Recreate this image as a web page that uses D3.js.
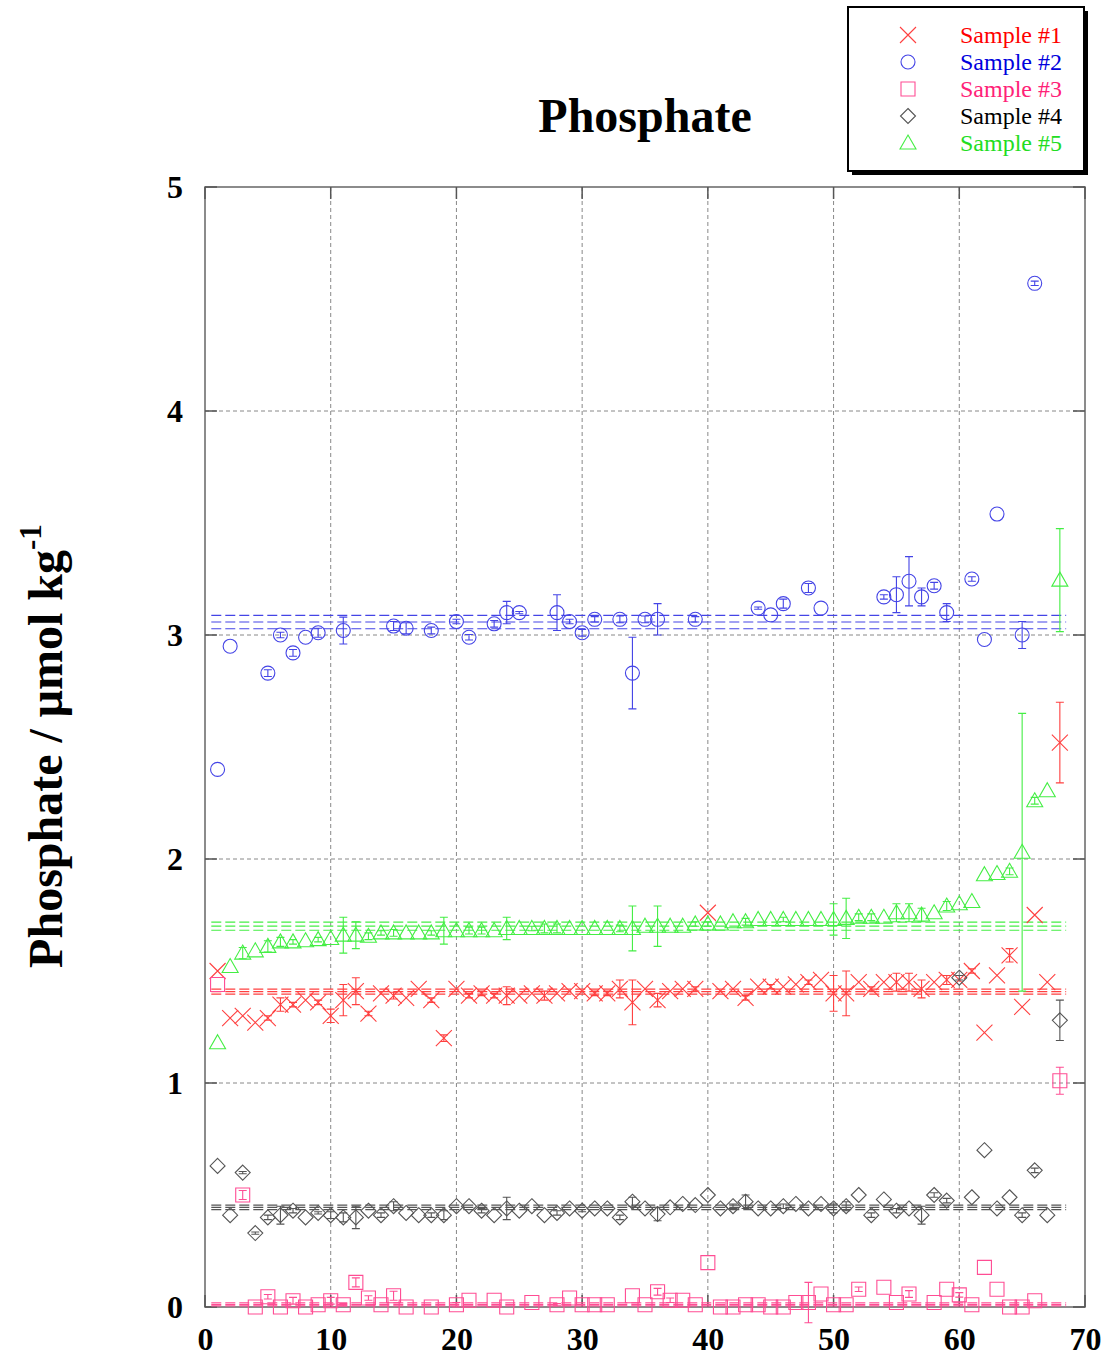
<!DOCTYPE html>
<html>
<head>
<meta charset="utf-8">
<script src="https://cdn.jsdelivr.net/npm/d3@7"></script>
<style>
  body { margin: 0; background: #fff; }
  svg { display: block; }
  text { font-family: "Liberation Serif", "DejaVu Serif", serif; }
</style>
</head>
<body>
<svg width="1108" height="1362"></svg>
<script>
// sample index along the x axis
const sampleNo = d3.range(1, 69);

// Sample #1 (red crosses)
const s1Values = [1.50,1.29,1.30,1.27,1.29,1.35,1.35,1.37,1.36,1.30,1.37,1.41,1.31,1.40,1.39,1.38,1.42,1.37,1.20,1.42,
  1.39,1.40,1.39,1.39,1.39,1.40,1.39,1.40,1.41,1.41,1.40,1.40,1.42,1.36,1.42,1.37,1.41,1.42,1.42,1.76,
  1.41,1.42,1.38,1.43,1.43,1.43,1.44,1.45,1.46,1.40,1.40,1.45,1.42,1.45,1.45,1.45,1.42,1.45,1.46,1.46,
  1.50,1.225,1.48,1.57,1.34,1.75,1.45,2.52];
const s1Errors = [0,0,0,0,0.01,0.03,0.01,0,0.01,0.03,0.07,0.06,0.01,0,0.015,0,0,0.01,0.015,0,
  0.01,0.01,0.01,0.04,0,0,0.02,0,0,0,0.01,0.01,0.04,0.1,0,0.03,0,0,0.01,0,
  0,0,0.01,0,0.01,0,0,0.01,0,0.08,0.1,0,0.01,0,0.04,0.04,0.04,0,0.02,0,
  0.01,0,0,0.03,0,0,0,0.18];

// Sample #2 (blue circles)
const s2Values = [2.40,2.95,null,null,2.83,3.00,2.92,2.99,3.01,null,3.02,null,null,null,3.04,3.03,null,3.02,null,3.06,
  2.99,null,3.05,3.10,3.10,null,null,3.10,3.06,3.01,3.07,null,3.07,2.83,3.07,3.07,null,null,3.07,null,
  null,null,null,3.12,3.09,3.14,null,3.21,3.12,null,null,null,null,3.17,3.18,3.24,3.17,3.22,3.10,null,
  3.25,2.98,3.54,null,3.00,4.57,null,null];
const s2Errors = [0,0,0,0,0.015,0.012,0.015,0,0.02,0,0.06,0,0,0,0.02,0.025,0,0.015,0,0.01,
  0.012,0,0.015,0.05,0.005,0,0,0.08,0.01,0.015,0.012,0,0.015,0.16,0.015,0.07,0,0,0.012,0,
  0,0,0,0.005,0,0.02,0,0.02,0,0,0,0,0,0.01,0.08,0.11,0.04,0.015,0.04,0,
  0.01,0,0,0,0.06,0.01,0,0];

// Sample #3 (pink squares)
const s3Values = [1.44,null,0.50,0.00,0.046,0.00,0.028,0.00,0.01,0.028,0.01,0.11,0.04,0.01,0.05,0.00,null,0.00,null,0.01,
  0.03,null,0.03,0.00,null,0.02,null,0.01,0.04,0.01,0.01,0.01,null,0.05,0.01,0.068,0.03,0.03,0.01,0.198,
  0.00,0.00,0.01,0.01,0.00,0.00,0.02,0.02,0.058,0.01,0.01,0.079,null,0.088,0.02,0.058,null,0.02,0.079,0.054,
  0.01,0.177,0.079,0.00,0.00,0.028,null,1.01];
const s3Errors = [0,0,0.02,0,0.01,0,0.015,0,0,0.015,0.005,0.02,0.01,0,0.02,0,0,0,0,0.01,
  0,0,0,0,0,0,0,0.005,0,0,0,0,0,0,0,0.015,0.01,0,0,0,
  0,0,0,0,0,0,0,0.09,0,0,0,0.01,0,0,0,0.015,0,0,0,0.01,
  0,0,0,0,0,0,0,0.06];

// Sample #4 (black diamonds)
const s4Values = [0.63,0.41,0.60,0.33,0.40,0.41,0.43,0.40,0.42,0.41,0.40,0.40,0.43,0.41,0.45,0.42,0.41,0.41,0.41,0.45,
  0.45,0.43,0.41,0.44,0.43,0.45,0.41,0.42,0.44,0.43,0.44,0.44,0.40,0.47,0.44,0.415,0.445,0.46,0.455,0.50,
  0.44,0.45,0.47,0.44,0.44,0.45,0.46,0.44,0.46,0.44,0.45,0.50,0.41,0.48,0.43,0.44,0.41,0.50,0.475,1.47,
  0.49,0.70,0.44,0.49,0.41,0.61,0.41,1.28];
const s4Errors = [0,0,0.005,0.005,0.01,0.04,0.01,0,0.005,0.015,0.02,0.05,0,0.01,0.02,0,0,0.01,0.02,0,
  0,0.01,0,0.05,0,0,0,0.01,0,0.005,0,0,0.01,0.02,0,0.03,0,0,0,0,
  0,0.01,0.03,0,0,0.01,0,0,0,0.02,0.02,0,0.01,0,0.01,0,0.04,0.01,0.01,0.01,
  0,0,0,0,0.01,0.01,0,0.09];

// Sample #5 (green triangles)
const s5Values = [1.18,1.52,1.58,1.59,1.61,1.63,1.63,1.635,1.64,1.645,1.66,1.66,1.655,1.67,1.67,1.67,1.67,1.67,1.68,1.68,
  1.68,1.68,1.68,1.69,1.69,1.69,1.69,1.69,1.69,1.69,1.69,1.69,1.69,1.69,1.70,1.70,1.70,1.70,1.71,1.71,
  1.71,1.72,1.72,1.73,1.73,1.73,1.73,1.73,1.73,1.73,1.735,1.74,1.74,1.74,1.76,1.76,1.75,1.76,1.79,1.80,
  1.81,1.93,1.935,1.945,2.03,2.26,2.305,3.245];
const s5Errors = [0,0,0.025,0,0.025,0.02,0.01,0,0.01,0,0.08,0.06,0.015,0.01,0.015,0,0,0.01,0.06,0,
  0.015,0.015,0,0.05,0,0.01,0.02,0.02,0,0,0,0,0.015,0.1,0,0.09,0,0,0.01,0.01,
  0,0,0.015,0,0,0.01,0,0,0,0.07,0.09,0.015,0.015,0,0.04,0.04,0.03,0,0.02,0,
  0,0,0,0.015,0.62,0.015,0,0.23];

// mean and standard deviation drawn as dashed lines
const seriesMeans = [1.408, 3.058, 0.012, 0.445, 1.700];
const seriesSd = [0.011, 0.03, 0.007, 0.01, 0.018];

const seriesNames = ["Sample #1", "Sample #2", "Sample #3", "Sample #4", "Sample #5"];
const xTicks = [0, 10, 20, 30, 40, 50, 60, 70];
const yTicks = [0, 1, 2, 3, 4, 5];

const markColors = ["#ff4040", "#4444e6", "#ff4d94", "#555555", "#44ee44"];
const textColors = ["#ff0000", "#0000dd", "#ff2277", "#000000", "#22dd22"];

const symbolPaths = [
  "M-8,-8L8,8M-8,8L8,-8",
  "M7,0A7,7 0 1,1 -7,0A7,7 0 1,1 7,0Z",
  "M-7,-7H7V7H-7Z",
  "M0,-7.5L7.5,0L0,7.5L-7.5,0Z",
  "M0,-8L8,6H-8Z"
];

const svg = d3.select("svg");
const plotL = 205, plotR = 1085, plotT = 187, plotB = 1307;

const x = d3.scaleLinear().domain([0, 70]).range([plotL, plotR]);
const y = d3.scaleLinear().domain([0, 5]).range([plotB, plotT]);

// grid
svg.append("g").selectAll("line")
  .data(xTicks.slice(1, -1))
  .join("line")
  .attr("x1", d => x(d)).attr("x2", d => x(d))
  .attr("y1", plotT).attr("y2", plotB)
  .attr("stroke", "#888").attr("stroke-width", 1).attr("stroke-dasharray", "4,3");

svg.append("g").selectAll("line")
  .data(yTicks.slice(1, -1))
  .join("line")
  .attr("x1", plotL).attr("x2", plotR)
  .attr("y1", d => y(d)).attr("y2", d => y(d))
  .attr("stroke", "#888").attr("stroke-width", 1).attr("stroke-dasharray", "4,3");

// frame
svg.append("rect")
  .attr("x", plotL).attr("y", plotT)
  .attr("width", plotR - plotL).attr("height", plotB - plotT)
  .attr("fill", "none").attr("stroke", "#666").attr("stroke-width", 1.5);

// inward ticks
const ticks = svg.append("g").attr("stroke", "#555").attr("stroke-width", 1.5);
yTicks.forEach(t => {
  ticks.append("line").attr("x1", plotL).attr("x2", plotL + 12).attr("y1", y(t)).attr("y2", y(t));
  ticks.append("line").attr("x1", plotR - 12).attr("x2", plotR).attr("y1", y(t)).attr("y2", y(t));
});
xTicks.forEach(t => {
  ticks.append("line").attr("x1", x(t)).attr("x2", x(t)).attr("y1", plotB).attr("y2", plotB - 12);
  ticks.append("line").attr("x1", x(t)).attr("x2", x(t)).attr("y1", plotT).attr("y2", plotT + 12);
});

// tick labels via axes
const xAxis = svg.append("g")
  .attr("transform", `translate(0,${plotB})`)
  .call(d3.axisBottom(x).tickValues(xTicks).tickSize(0).tickPadding(20).tickFormat(d3.format("d")));
const yAxis = svg.append("g")
  .attr("transform", `translate(${plotL},0)`)
  .call(d3.axisLeft(y).tickValues(yTicks).tickSize(0).tickPadding(22).tickFormat(d3.format("d")));
[xAxis, yAxis].forEach(a => {
  a.select(".domain").remove();
  a.selectAll("text")
    .attr("font-family", "Liberation Serif, serif")
    .attr("font-size", 32).attr("font-weight", "bold").attr("fill", "#000");
});

// mean +/- sd dashed lines
seriesMeans.forEach((m, i) => {
  [m - seriesSd[i], m, m + seriesSd[i]].forEach(v => {
    svg.append("line")
      .attr("x1", x(0.5)).attr("x2", x(68.5))
      .attr("y1", y(v)).attr("y2", y(v))
      .attr("stroke", markColors[i]).attr("stroke-width", 1.2)
      .attr("stroke-dasharray", "10,4");
  });
});

// points with error bars
const allValues = [s1Values, s2Values, s3Values, s4Values, s5Values];
const allErrors = [s1Errors, s2Errors, s3Errors, s4Errors, s5Errors];

allValues.forEach((vals, si) => {
  const data = sampleNo.map((n, i) => ({ n, v: vals[i], e: allErrors[si][i] }))
    .filter(d => d.v !== null);
  const g = svg.append("g").attr("stroke", markColors[si]).attr("fill", "none").attr("stroke-width", 1.1);

  const withErr = data.filter(d => d.e > 0);
  g.selectAll(".eb")
    .data(withErr)
    .join("path")
    .attr("class", "eb")
    .attr("d", d => {
      const cx = x(d.n), y1 = y(d.v - d.e), y2 = y(d.v + d.e);
      return `M${cx},${y1}V${y2}M${cx - 4},${y1}H${cx + 4}M${cx - 4},${y2}H${cx + 4}`;
    });

  g.selectAll(".pt")
    .data(data)
    .join("path")
    .attr("class", "pt")
    .attr("transform", d => `translate(${x(d.n)},${y(d.v)})`)
    .attr("d", symbolPaths[si]);
});

// title
svg.append("text")
  .attr("x", 645).attr("y", 132)
  .attr("text-anchor", "middle")
  .attr("font-size", 48).attr("font-weight", "bold")
  .text("Phosphate");

// y label
const yl = svg.append("text")
  .attr("transform", "translate(62,746) rotate(-90)")
  .attr("text-anchor", "middle")
  .attr("font-size", 48).attr("font-weight", "bold");
yl.append("tspan").text("Phosphate / μmol kg");
yl.append("tspan").attr("font-size", 31).attr("dy", -21).text("-1");

// legend
const lg = svg.append("g");
lg.append("rect").attr("x", 852).attr("y", 11).attr("width", 236).attr("height", 164).attr("fill", "#000");
lg.append("rect").attr("x", 848).attr("y", 7).attr("width", 236).attr("height", 164)
  .attr("fill", "#fff").attr("stroke", "#000").attr("stroke-width", 2);

seriesNames.forEach((name, i) => {
  const cy = 35 + i * 27;
  lg.append("path")
    .attr("transform", `translate(908,${cy})`)
    .attr("d", symbolPaths[i])
    .attr("fill", "none").attr("stroke", markColors[i]).attr("stroke-width", 1.1);
  lg.append("text")
    .attr("x", 960).attr("y", cy + 8)
    .attr("font-size", 24).attr("fill", textColors[i])
    .text(name);
});
</script>
</body>
</html>
